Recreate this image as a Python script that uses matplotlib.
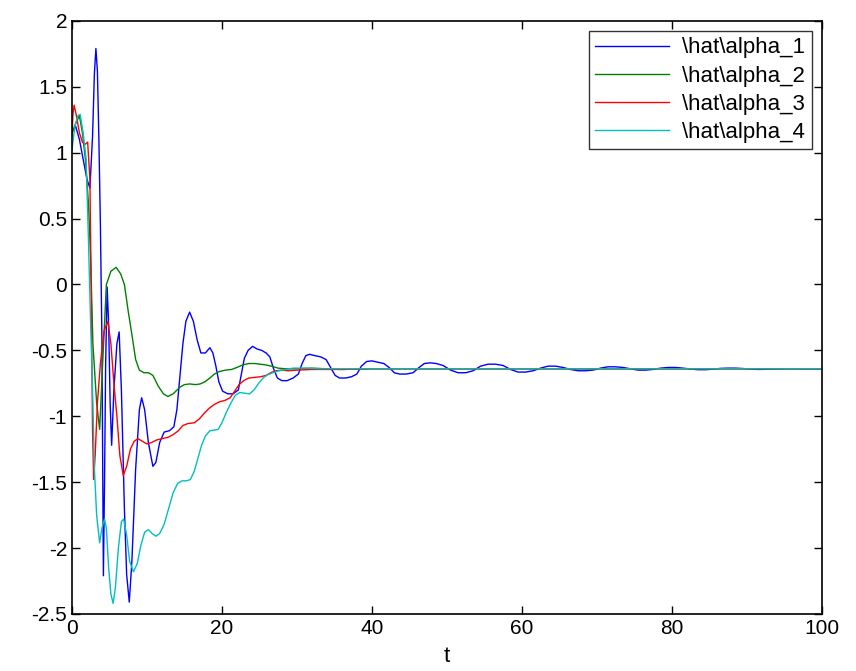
import matplotlib
matplotlib.use("Agg")
import matplotlib.pyplot as plt

# values (t, value)
t_a1 = [0, 0.5, 1.0, 1.5, 2.0, 2.4, 2.75, 3.0, 3.2, 3.4, 3.6, 3.8, 4.0, 4.1, 4.2,
        4.35, 4.5, 4.7, 4.9, 5.1, 5.3, 5.6, 6.0, 6.3, 6.6, 7.0, 7.3, 7.65, 8.0,
        8.5, 9.0, 9.3, 9.7, 10.2, 10.8, 11.2, 11.7, 12.3, 13.0, 13.6, 14.0, 14.4,
        14.8, 15.2, 15.7, 16.2, 16.7, 17.2, 17.8, 18.4, 18.8, 19.2, 19.6, 20.1,
        20.8, 21.5, 22.2, 22.6, 23.0, 23.5, 24.1, 24.7, 25.3, 25.9, 26.4, 26.9,
        27.4, 28.0, 28.7, 29.5, 30.2, 30.7, 31.2, 31.7, 32.4, 33.2, 33.9, 34.5,
        35.1, 35.7, 36.5, 37.3, 38.0, 38.6, 39.3, 40.0, 40.8, 41.6, 42.3, 43.0,
        43.7, 44.6, 45.5, 46.3, 47.0, 47.8, 48.6, 49.5, 50.5, 51.5, 52.5, 53.5,
        54.5, 55.5, 56.5, 57.5, 58.5, 59.5, 60.5, 61.5, 62.5, 63.5, 64.5, 65.5,
        66.5, 67.5, 68.5, 69.5, 70.5, 71.5, 72.5, 73.5, 74.5, 75.5, 76.5, 77.5,
        78.5, 79.5, 80.5, 81.5, 82.5, 83.5, 84.5, 85.5, 86.5, 87.5, 88.5, 89.5,
        90.5, 91.5, 92.5, 94, 96, 98, 100]
a1 = [1.15, 1.2, 1.1, 0.95, 0.8, 0.73, 1.12, 1.6, 1.79, 1.62, 1.1, 0.45, -0.4,
      -1.3, -2.21, -1.5, -0.6, -0.02, -0.3, -0.9, -1.22, -0.8, -0.45, -0.36,
      -0.8, -1.7, -2.2, -2.41, -2.1, -1.4, -0.95, -0.86, -0.95, -1.2, -1.38,
      -1.35, -1.2, -1.12, -1.11, -1.08, -0.95, -0.7, -0.45, -0.28, -0.21,
      -0.28, -0.42, -0.52, -0.52, -0.48, -0.52, -0.62, -0.74, -0.81, -0.83,
      -0.83, -0.8, -0.68, -0.56, -0.5, -0.47, -0.49, -0.5, -0.52, -0.55,
      -0.64, -0.71, -0.73, -0.73, -0.71, -0.68, -0.6, -0.54, -0.53, -0.54,
      -0.55, -0.57, -0.63, -0.69, -0.71, -0.71, -0.7, -0.68, -0.62, -0.585,
      -0.58, -0.59, -0.6, -0.63, -0.67, -0.68, -0.68, -0.67, -0.63, -0.6,
      -0.595, -0.6, -0.615, -0.65, -0.67, -0.67, -0.655, -0.62, -0.605,
      -0.605, -0.615, -0.645, -0.665, -0.665, -0.655, -0.635, -0.62, -0.62,
      -0.63, -0.645, -0.655, -0.655, -0.65, -0.635, -0.625, -0.625, -0.63,
      -0.64, -0.65, -0.65, -0.645, -0.635, -0.63, -0.63, -0.635, -0.642,
      -0.647, -0.647, -0.643, -0.637, -0.635, -0.635, -0.638, -0.643, -0.645,
      -0.644, -0.641, -0.639, -0.64, -0.64]

t_a2 = [0, 0.5, 1.0, 1.4, 1.8, 2.2, 2.5, 2.8, 3.3, 3.7, 4.1, 4.6, 5.2, 5.9, 6.5,
        7.0, 7.5, 8.0, 8.5, 9.0, 9.6, 10.2, 10.8, 11.5, 12.2, 12.8, 13.5, 14.4,
        15.0, 15.7, 16.5, 17.1, 17.7, 18.4, 19.0, 19.7, 20.5, 21.3, 22.0, 22.8,
        23.6, 24.4, 25.1, 25.8, 26.6, 27.5, 28.5, 30, 32, 34, 36, 40, 50, 100]
a2 = [1.15, 1.22, 1.28, 1.15, 0.95, 0.62, 0.2, -0.45, -0.9, -1.1, -0.6, 0.0,
      0.1, 0.13, 0.08, 0.0, -0.2, -0.38, -0.57, -0.65, -0.67, -0.67, -0.69,
      -0.77, -0.83, -0.85, -0.83, -0.78, -0.76, -0.755, -0.76, -0.755, -0.74,
      -0.71, -0.68, -0.66, -0.65, -0.645, -0.63, -0.61, -0.6, -0.6, -0.605,
      -0.61, -0.62, -0.635, -0.64, -0.64, -0.635, -0.64, -0.645, -0.64,
      -0.64, -0.64]

t_a3 = [0, 0.15, 0.3, 0.6, 1.0, 1.4, 1.7, 2.1, 2.4, 2.6, 2.75, 2.9, 3.1, 3.4,
        3.8, 4.3, 4.8, 5.2, 5.6, 6.0, 6.4, 6.85, 7.3, 7.8, 8.3, 8.8, 9.4, 10.0,
        10.6, 11.3, 12.0, 12.8, 13.5, 14.2, 14.8, 15.5, 16.3, 17.0, 17.6, 18.3,
        19.0, 19.7, 20.4, 21.1, 21.7, 22.3, 22.9, 23.6, 24.4, 25.2, 25.9, 26.5,
        27.2, 28.0, 28.8, 30, 32, 36, 40, 100]
a3 = [1.12, 1.3, 1.36, 1.28, 1.15, 1.08, 1.06, 1.08, 0.8, -0.2, -1.1, -1.48,
      -1.3, -0.9, -0.6, -0.35, -0.28, -0.45, -0.75, -1.0, -1.3, -1.45, -1.38,
      -1.25, -1.19, -1.17, -1.19, -1.21, -1.2, -1.18, -1.17, -1.16, -1.14,
      -1.11, -1.07, -1.055, -1.05, -1.02, -0.98, -0.94, -0.91, -0.89, -0.88,
      -0.86, -0.81, -0.76, -0.73, -0.71, -0.705, -0.7, -0.69, -0.67, -0.655,
      -0.65, -0.655, -0.65, -0.645, -0.645, -0.64, -0.64]

t_a4 = [0, 0.4, 0.8, 1.1, 1.5, 1.9, 2.2, 2.5, 2.8, 3.0, 3.3, 3.7, 4.0, 4.35,
        4.6, 4.9, 5.2, 5.5, 5.8, 6.2, 6.6, 6.9, 7.3, 7.7, 8.2, 8.7, 9.2, 9.7,
        10.2, 10.7, 11.2, 11.7, 12.3, 12.9, 13.5, 14.1, 14.7, 15.3, 15.8, 16.3,
        16.8, 17.3, 17.8, 18.4, 19.0, 19.5, 20.0, 20.6, 21.2, 21.8, 22.4, 23.0,
        23.7, 24.3, 24.9, 25.5, 26.1, 26.8, 27.6, 28.5, 29.5, 31, 33, 40, 100]
a4 = [1.02, 1.2, 1.28, 1.29, 1.15, 0.95, 0.35, -0.3, -0.9, -1.4, -1.75, -1.96,
      -1.85, -1.78, -1.85, -2.15, -2.35, -2.42, -2.3, -2.0, -1.8, -1.78, -1.9,
      -2.1, -2.18, -2.12, -1.98, -1.88, -1.86, -1.89, -1.91, -1.89, -1.82,
      -1.7, -1.58, -1.51, -1.49, -1.49, -1.48, -1.42, -1.32, -1.22, -1.15,
      -1.11, -1.105, -1.1, -1.05, -0.97, -0.9, -0.84, -0.82, -0.825, -0.83,
      -0.8, -0.75, -0.71, -0.685, -0.67, -0.655, -0.645, -0.635, -0.635,
      -0.64, -0.64, -0.64]

labels = ['\\hat\\alpha_1', '\\hat\\alpha_2', '\\hat\\alpha_3', '\\hat\\alpha_4']
colors = ['#0000ff', '#008000', '#ff0000', '#00bfbf']

plt.rcParams['font.family'] = ['Liberation Sans', 'DejaVu Sans']

fig = plt.figure(figsize=(8.56, 6.71), dpi=100)
ax = fig.add_axes([0.084, 0.085, 0.876, 0.884])

for tt, yy, lab, c in zip([t_a1, t_a2, t_a3, t_a4], [a1, a2, a3, a4], labels, colors):
    ax.plot(tt, yy, color=c, lw=1.0, label=lab)

ax.set_xlim(0, 100)
ax.set_ylim(-2.5, 2)
ax.set_xticks([0, 20, 40, 60, 80, 100])
ax.set_yticks([-2.5, -2, -1.5, -1, -0.5, 0, 0.5, 1, 1.5, 2])
ax.set_yticklabels(['-2.5', '-2', '-1.5', '-1', '-0.5', '0', '0.5', '1', '1.5', '2'])
ax.tick_params(direction='in', top=True, right=True, labelsize=15, length=6, width=1)
for s in ax.spines.values():
    s.set_linewidth(1.2)
ax.set_xlabel('t', fontsize=16, labelpad=6)

leg = ax.legend(loc='upper right', fontsize=16, frameon=True, fancybox=False,
                edgecolor='black', handlelength=3.3, borderpad=0.3,
                labelspacing=0.32, handletextpad=0.6, borderaxespad=0.45)
leg.get_frame().set_linewidth(1.0)

fig.savefig('out.png', dpi=100)
